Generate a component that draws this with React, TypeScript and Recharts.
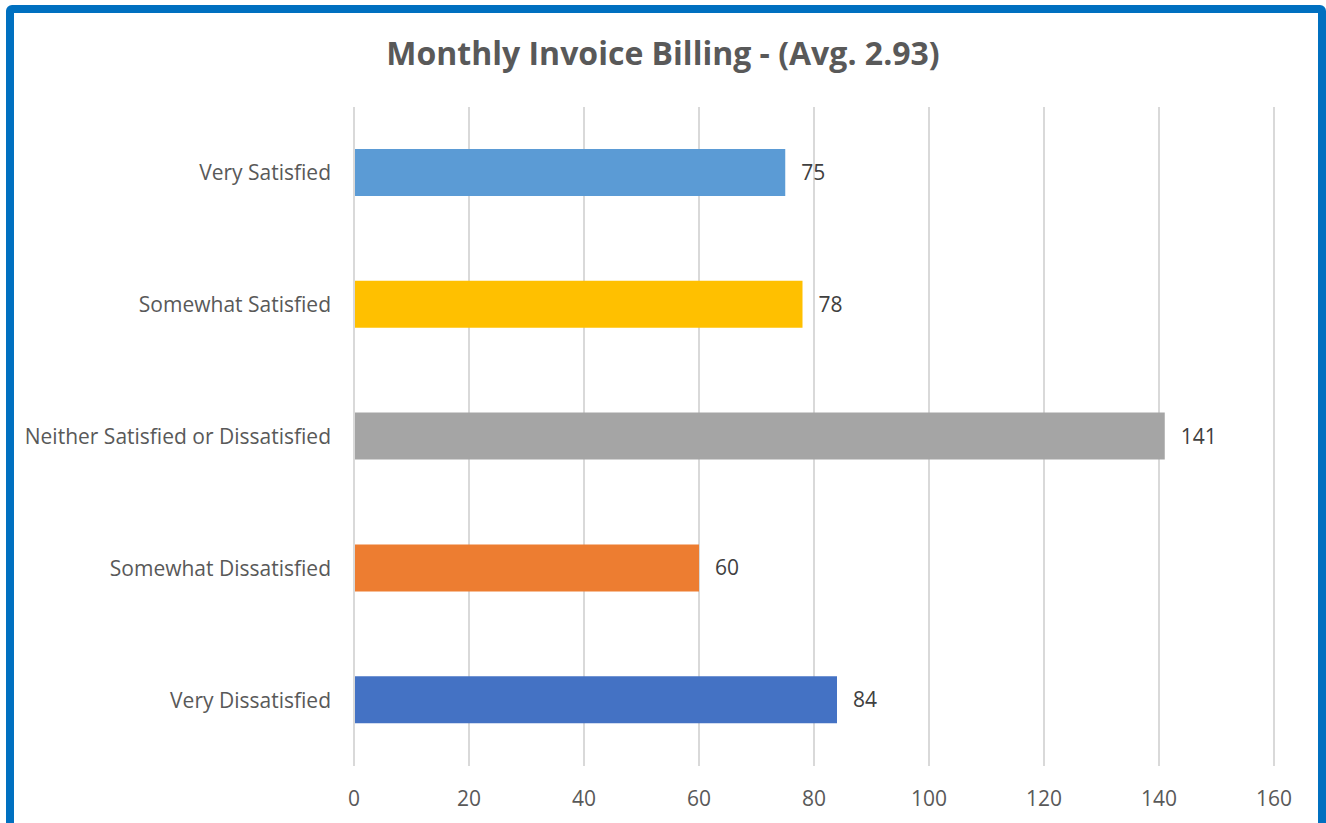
import { BarChart, Bar, XAxis, YAxis, CartesianGrid, LabelList, Cell } from 'recharts';

const categories = [
    'Very Satisfied',
    'Somewhat Satisfied',
    'Neither Satisfied or Dissatisfied',
    'Somewhat Dissatisfied',
    'Very Dissatisfied',
];
const responses = [75, 78, 141, 60, 84];
const barColors = ['#5B9BD5', '#FFC000', '#A5A5A5', '#ED7D31', '#4472C4'];
const xTicks = [0, 20, 40, 60, 80, 100, 120, 140, 160];

const data = categories.map((name, i) => ({ name, value: responses[i] }));

const FONT = '"Open Sans", Lato, sans-serif';

export default function App() {
    return (
        <div style={{ position: 'absolute', left: 0, top: 0, width: 1326, height: 823, overflow: 'hidden', background: '#fff', fontFamily: FONT }}>
            {/* blue frame */}
            <div style={{ position: 'absolute', left: 6, top: 5, width: 1304, height: 840, border: '8px solid #0070C0', borderRadius: 6 }} />
            <div style={{ position: 'absolute', left: 0, top: 31, width: 1326, textAlign: 'center', fontSize: 32, fontWeight: 'bold', color: '#595959' }}>
                Monthly Invoice Billing - (Avg. 2.93)
            </div>
            <div style={{ position: 'absolute', left: 0, top: 0 }}>
                <BarChart width={1326} height={823} data={data} layout="vertical" margin={{ top: 107, right: 52, bottom: 0, left: 0 }}>
                    <CartesianGrid horizontal={false} stroke="#D9D9D9" strokeWidth={2} />
                    <XAxis
                        type="number"
                        domain={[0, 160]}
                        ticks={xTicks}
                        height={57}
                        axisLine={false}
                        tickLine={false}
                        tickSize={0}
                        tickMargin={25}
                        tick={{ fontSize: 21, fill: '#595959', fontFamily: FONT }}
                        interval={0}
                    />
                    <YAxis
                        type="category"
                        dataKey="name"
                        width={354}
                        axisLine={{ stroke: '#D9D9D9', strokeWidth: 2 }}
                        tickLine={false}
                        tickSize={0}
                        tickMargin={23}
                        tick={{ fontSize: 21, fill: '#595959', fontFamily: FONT }}
                        interval={0}
                    />
                    <Bar dataKey="value" barSize={47} isAnimationActive={false}>
                        {data.map((_, i) => (
                            <Cell key={`cell-${i}`} fill={barColors[i]} />
                        ))}
                        <LabelList dataKey="value" position="right" offset={16} fill="#404040" fontSize={21} fontFamily={FONT} />
                    </Bar>
                </BarChart>
            </div>
        </div>
    );
}
